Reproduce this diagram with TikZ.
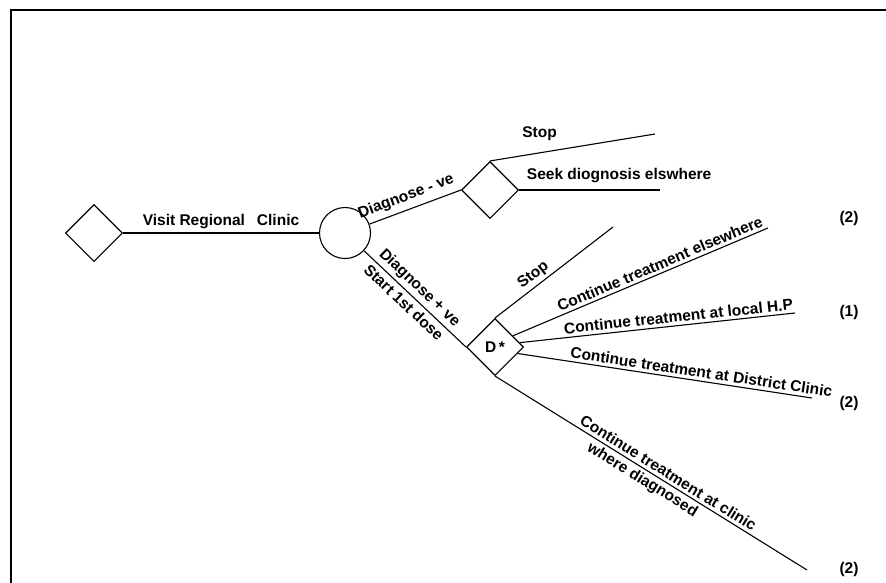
\documentclass[tikz,border=0pt]{standalone}
\usepackage{fontspec}
\setmainfont{Liberation Sans}
\usetikzlibrary{shapes.geometric}

\begin{document}
\begin{tikzpicture}[
			x=1pt, y=-1pt,
			font=\fontsize{15.5}{18}\selectfont\bfseries,
			choice/.style={
				draw, diamond, line width=1.1pt, inner sep=0pt,
				minimum width=57pt, minimum height=57pt
			},
			chance/.style={
				draw, circle, line width=1.1pt, inner sep=0pt,
				minimum size=51pt
			},
			branch/.style={line width=1.1pt},
			lbl/.style={sloped, inner sep=3pt},
			frame/.style={line width=1.8pt}
			]
			\useasboundingbox (0,0) rectangle (886,582);
			
			%==================== 边框 ====================
			\draw[frame] (890,10) -- (11,10) -- (11,590);
			
			%==================== 决策点 ====================
			\node[choice] (start) at (94,233) {};
			\node[chance] (clinic) at (345,233) {};
			\node[choice] (neg) at (490,190) {};
			\node[choice] (pos) at (495,347) {D\,*};
			
			%==================== 末端 ====================
			\coordinate (stopA) at (655,134);
			\coordinate (seekA) at (660,190);
			\coordinate (stopB) at (613,227);
			\coordinate (elseB) at (768,228);
			\coordinate (hpB) at (795,313);
			\coordinate (distB) at (812,398);
			\coordinate (diagB) at (807,570);
			
			%==================== 连线 ====================
			\draw[branch] (start.east) -- node[above] {Visit Regional\hspace{12pt}Clinic} (clinic.west);
			\draw[branch] (clinic.20) -- node[lbl, above=2pt, pos=0.45] {Diagnose - ve} (neg.west);
			\draw[branch] (clinic.-43) --
				node[lbl, above, pos=0.47] {Diagnose + ve}
				node[lbl, below=1pt, pos=0.46] {Start 1st dose} (pos.west);
			
			\draw[branch] (neg.north) -- node[above=8pt, pos=0.3] {Stop} (stopA);
			\draw[branch] (neg.east) -- node[above=3pt, pos=0.71] {Seek diognosis elswhere} (seekA);
			
			\draw[branch] (pos.north) -- node[lbl, above, pos=0.38] {Stop} (stopB);
			\draw[branch] (pos.32) -- node[lbl, above, pos=0.59] {Continue treatment elsewhere} (elseB);
			\draw[branch] (pos.10) -- node[lbl, above, pos=0.58] {Continue treatment at local H.P} (hpB);
			\draw[branch] (pos.-16) -- node[lbl, above, pos=0.62] {Continue treatment at District Clinic} (distB);
			\draw[branch] (pos.south) --
				node[lbl, above, pos=0.54] {Continue treatment at clinic}
				node[lbl, below, pos=0.49] {where diagnosed} (diagB);
			
			%==================== 结果 ====================
			\node (resA) at (849,218) {(2)};
			\node (resB) at (849,312) {(1)};
			\node (resC) at (849,403) {(2)};
			\node (resD) at (849,569) {(2)};
			
		\end{tikzpicture}
\end{document}
